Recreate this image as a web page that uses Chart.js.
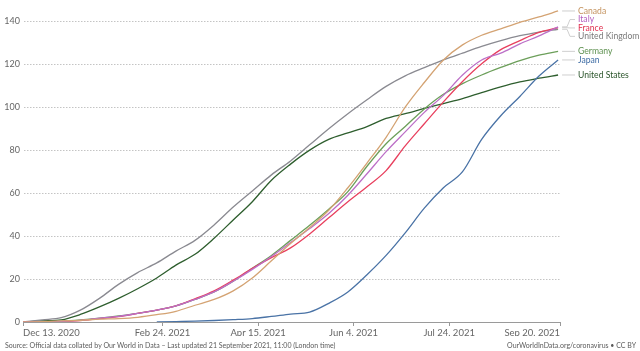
<!DOCTYPE html>
<html>
<head>
<meta charset="utf-8">
<script src="https://cdn.jsdelivr.net/npm/chart.js@4/dist/chart.umd.min.js"></script>
<style>
  html, body { margin: 0; padding: 0; background: #fff; }
  #wrap { position: relative; width: 640px; height: 351px; font-family: Lato, sans-serif; }
  #chart { position: absolute; left: 0; top: 0; }
  .foot { position: absolute; top: 341px; font-size: 7px; color: #5b5b5b; white-space: nowrap; }
  #src { left: 5px; }
  #lic { right: 4px; }
</style>
</head>
<body>
<div id="wrap">
  <canvas id="chart" width="640" height="351"></canvas>
  <div class="foot" id="src">Source: Official data collated by Our World in Data – Last updated 21 September 2021, 11:00 (London time)</div>
  <div class="foot" id="lic">OurWorldInData.org/coronavirus • CC BY</div>
</div>
<script>
// days since Dec 13, 2020
const days = [0, 10, 20, 30, 40, 50, 60, 70, 80, 90, 100, 110, 120, 130, 140, 150, 160, 170, 180, 190, 200, 210, 220, 230, 240, 250, 260, 270, 280];
const tickDays = [0, 73, 123, 173, 223, 281];
const tickLabels = ['Dec 13, 2020', 'Feb 24, 2021', 'Apr 15, 2021', 'Jun 4, 2021', 'Jul 24, 2021', 'Sep 20, 2021'];
const yTicks = [0, 20, 40, 60, 80, 100, 120, 140];

const canada  = [0, 0.2, 0.5, 0.8, 1.3, 1.6, 2.2, 3.4, 5, 7.8, 10.5, 14.5, 20.5, 28.5, 36.5, 44, 52, 62.5, 74, 86, 100, 111.5, 122, 129, 133.5, 136.5, 139.5, 142, 144.8];
const italy   = [0, 0.1, 0.3, 0.8, 1.8, 2.6, 4, 5.5, 7.5, 10.5, 14, 19, 24.5, 30.5, 37, 43.5, 50.5, 59, 69, 79.3, 88.5, 97.6, 105.5, 115, 122, 125.2, 129.5, 133.2, 137.4];
const france  = [0, 0, 0.2, 0.6, 1.6, 2.5, 4, 5.5, 7.5, 10.8, 14.5, 19.5, 25, 30, 34.5, 41, 48.5, 56, 63, 70.5, 82, 92.3, 102.5, 112, 120.2, 126.8, 131, 134.8, 137];
const uk      = [0, 1, 2, 5.5, 11, 17.5, 23, 27.5, 33, 38, 45.2, 53.5, 61, 68.5, 75, 82.5, 90, 97, 103.5, 109.7, 114.6, 118.4, 122, 125.2, 128.3, 131, 133.3, 135, 136.3];
const germany = [0, 0.1, 0.4, 1, 1.8, 2.8, 4, 5.5, 7.5, 10.5, 14, 19, 25, 31, 38, 45, 52.5, 60.7, 72.5, 83, 91, 99.2, 106, 111, 115, 118.5, 121.7, 124.2, 126];
const japan   = [null, null, null, null, null, null, null, 0, 0.2, 0.4, 0.7, 1.1, 1.6, 2.6, 3.7, 4.6, 8.7, 14, 22, 31, 41.5, 53, 62.5, 70, 85, 96, 105, 114.5, 122];
const us      = [0, 0.5, 1, 3.5, 7, 11, 15.5, 20.5, 26.5, 31.5, 39, 47.5, 56, 66, 73.5, 80, 85, 88, 91, 94.8, 97, 99.4, 101.7, 104, 106.8, 109.5, 111.8, 113.5, 115];

const series = [
  { name: 'Canada', values: canada, color: '#d4a373', text: '#c4935f' },
  { name: 'Italy', values: italy, color: '#bc6fc7', text: '#b45fc0' },
  { name: 'France', values: france, color: '#e8405e', text: '#e0304f' },
  { name: 'United Kingdom', values: uk, color: '#8a8a91', text: '#7a7a7a' },
  { name: 'Germany', values: germany, color: '#6c9f5a', text: '#5e9150' },
  { name: 'Japan', values: japan, color: '#4a73a6', text: '#3f6da5' },
  { name: 'United States', values: us, color: '#2e5e2e', text: '#2b552b' }
];

// labels at the end of each line, pushed apart when they overlap
const endLabels = {
  id: 'endLabels',
  afterDatasetsDraw(chart) {
    const ctx = chart.ctx;
    const items = [];
    chart.data.datasets.forEach((ds, i) => {
      const pts = chart.getDatasetMeta(i).data;
      let k = ds.data.length - 1;
      while (k > 0 && ds.data[k].y == null) k--;
      items.push({ ds, x: pts[k].x, y0: pts[k].y, y: pts[k].y });
    });
    items.sort((a, b) => a.y0 - b.y0);
    const gap = 8.4;
    for (let it = 0; it < 200; it++) {
      if (items[0].y < 10) items[0].y = 10;
      for (let i = 1; i < items.length; i++) {
        const d = items[i].y - items[i - 1].y;
        if (d < gap) {
          const m = (gap - d) / 2;
          items[i - 1].y -= m;
          items[i].y += m;
        }
      }
    }
    ctx.save();
    ctx.lineWidth = 1;
    ctx.strokeStyle = '#cfcfcf';
    ctx.font = '8.6px Lato';
    ctx.textBaseline = 'middle';
    items.forEach(p => {
      ctx.beginPath();
      ctx.moveTo(p.x + 4, p.y0);
      ctx.lineTo(567, p.y0);
      ctx.lineTo(570, p.y);
      ctx.lineTo(575, p.y);
      ctx.stroke();
      ctx.fillStyle = p.ds.textColor;
      ctx.fillText(p.ds.label, 578, p.y);
    });
    ctx.restore();
  }
};

new Chart(document.getElementById('chart'), {
  type: 'line',
  data: {
    datasets: series.map(s => ({
      label: s.name,
      data: days.map((d, i) => ({ x: d, y: s.values[i] })),
      borderColor: s.color,
      textColor: s.text,
      borderWidth: 1.3,
      pointRadius: 0,
      cubicInterpolationMode: 'monotone',
      spanGaps: false
    }))
  },
  options: {
    responsive: false,
    animation: false,
    layout: { padding: { top: 4, right: 80, bottom: 15, left: 0 } },
    plugins: { legend: { display: false }, tooltip: { enabled: false } },
    scales: {
      x: {
        type: 'linear',
        min: 0,
        max: 281,
        afterBuildTicks: s => { s.ticks = tickDays.map(v => ({ value: v })); },
        afterFit: s => { s.height = 14; },
        grid: { drawOnChartArea: false, drawTicks: true, tickLength: 4, color: '#999' },
        border: { color: '#9a9a9a' },
        ticks: {
          align: 'inner',
          maxRotation: 0,
          autoSkip: false,
          padding: 1,
          color: '#666',
          font: { family: 'Lato', size: 9.5 },
          callback: v => tickLabels[tickDays.indexOf(v)]
        }
      },
      y: {
        min: 0,
        max: 146,
        afterBuildTicks: s => { s.ticks = yTicks.map(v => ({ value: v })); },
        afterFit: s => { s.width = 23; },
        border: { display: true, color: 'rgba(0,0,0,0)', dash: [1.5, 1.5] },
        grid: {
          drawTicks: false,
          color: c => c.tick.value === 0 ? 'rgba(0,0,0,0)' : '#c4c4c4'
        },
        ticks: {
          padding: 3,
          color: '#666',
          font: { family: 'Lato', size: 9 }
        }
      }
    }
  },
  plugins: [endLabels]
});
</script>
</body>
</html>
